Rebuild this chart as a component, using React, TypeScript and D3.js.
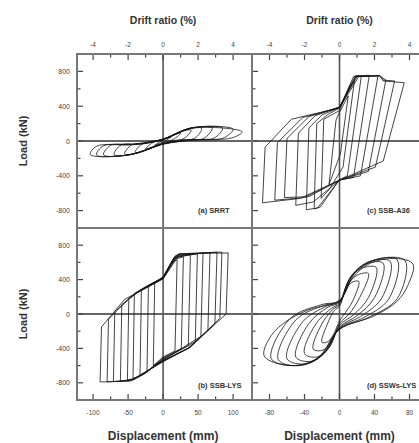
import * as d3 from "d3";
import React, { useEffect, useRef } from "react";

type Pt = [number, number];

// axis ticks
const driftTicks = [-4, -2, 0, 2, 4];
const driftMinor = [-3, -1, 1, 3];
const loadTicks = [800, 400, 0, -400, -800];
const loadMinor = [600, 200, -200, -600];
const dispTicksLeft = [-100, -50, 0, 50, 100];
const dispMinorLeft = [-75, -25, 25, 75];
const dispTicksRight = [-80, -40, 0, 40, 80];
const dispMinorRight = [-60, -20, 20, 60];

const panelLabels = ["(a) SRRT", "(b) SSB-LYS", "(c) SSB-A36", "(d) SSWs-LYS"];

// hysteresis cycles, [displacement (mm), load (kN)] key points
const loopsA: Pt[][] = [
  [[12, 50], [5, 10], [0, -10], [-12, -50], [-5, -10], [0, 10]],
  [[25, 90], [15, 20], [0, -20], [-25, -90], [-15, -20], [0, 20]],
  [[40, 125], [30, 30], [0, -30], [-28, -115], [-40, -130], [-30, -35], [0, 20], [28, 115]],
  [[55, 145], [45, 30], [20, 10], [0, -30], [-38, -140], [-55, -150], [-45, -45], [-20, -20], [0, 20], [35, 140]],
  [[70, 150], [58, 30], [30, 12], [0, -32], [-42, -150], [-70, -158], [-60, -45], [-30, -35], [0, 20], [38, 148]],
  [[85, 148], [72, 30], [40, 12], [0, -34], [-45, -155], [-85, -160], [-75, -50], [-40, -40], [0, 20], [40, 150]],
  [[100, 135], [85, 30], [45, 14], [0, -35], [-48, -158], [-95, -160], [-85, -55], [-45, -40], [0, 20], [42, 150]],
  [[113, 105], [98, 35], [50, 15], [0, -36], [-50, -160], [-104, -155], [-95, -60], [-45, -42], [0, 20], [45, 150]],
];

const loopsB: Pt[][] = [
  [[20, 630], [17, -430], [0, -500], [-14, -600], [-12, 360], [0, 430], [12, 600]],
  [[29, 665], [26, -400], [0, -510], [-23, -670], [-21, 320], [0, 430], [14, 630]],
  [[39, 690], [36, -370], [0, -520], [-25, -690], [-33, -720], [-31, 280], [-15, 360], [0, 425], [15, 650]],
  [[49, 700], [46, -320], [0, -530], [-30, -710], [-43, -750], [-41, 240], [-20, 340], [0, 420], [16, 660]],
  [[57, 710], [54, -260], [0, -535], [-35, -735], [-51, -770], [-49, 180], [-26, 310], [0, 420], [17, 670]],
  [[67, 715], [64, -190], [35, -400], [0, -540], [-40, -755], [-61, -780], [-59, 110], [-32, 280], [0, 415], [18, 680]],
  [[77, 720], [74, -110], [37, -395], [0, -545], [-42, -765], [-71, -785], [-69, 30], [-38, 250], [0, 415], [20, 690]],
  [[84, 720], [81, -50], [38, -390], [0, -550], [-45, -775], [-80, -790], [-78, -60], [-45, 210], [0, 410], [22, 700]],
  [[93, 710], [90, 0], [39, -385], [0, -555], [-48, -780], [-90, -790], [-88, -150], [-55, 170], [0, 410], [24, 700]],
];

const loopsC: Pt[][] = [
  [[10, 520], [1, -150], [-12, -500], [-4, 240], [0, 330]],
  [[17, 690], [4, -300], [-12, -560], [-21, -660], [-18, 250], [0, 350], [12, 640]],
  [[25, 750], [9, -400], [0, -445], [-22, -760], [-29, -780], [-26, 200], [-14, 300], [0, 380], [16, 740]],
  [[34, 755], [16, -420], [0, -445], [-25, -770], [-38, -790], [-35, 150], [-20, 300], [0, 385], [18, 750]],
  [[44, 750], [24, -400], [0, -450], [-30, -700], [-50, -740], [-47, 90], [-28, 290], [0, 390], [19, 745]],
  [[53, 700], [33, -350], [0, -450], [-35, -640], [-63, -650], [-60, 30], [-35, 280], [0, 390], [19, 740], [46, 750]],
  [[63, 690], [41, -300], [0, -450], [-40, -650], [-74, -680], [-71, -20], [-42, 270], [0, 385], [20, 740], [46, 750], [50, 700]],
  [[74, 670], [50, -230], [0, -450], [-45, -660], [-88, -710], [-85, -70], [-55, 250], [0, 380], [22, 740], [46, 750], [50, 690]],
];

const loopsD: Pt[][] = [
  [[22, 380], [15, 150], [7, 20], [0, -80], [-6, -220], [-13, -320], [-20, -330], [-14, -120], [-6, 40], [0, 90], [6, 250], [13, 360]],
  [[33, 470], [23, 190], [11, 0], [0, -110], [-9, -320], [-19, -420], [-30, -410], [-21, -130], [-8, 50], [0, 110], [8, 320], [20, 450]],
  [[42, 540], [33, 190], [16, -10], [0, -130], [-11, -380], [-26, -500], [-40, -460], [-28, -130], [-10, 60], [0, 125], [10, 380], [25, 530]],
  [[50, 590], [40, 190], [20, -20], [0, -150], [-14, -420], [-32, -550], [-50, -500], [-35, -110], [-13, 80], [0, 135], [12, 420], [30, 580]],
  [[58, 610], [48, 180], [24, -30], [0, -160], [-17, -450], [-38, -580], [-60, -520], [-42, -90], [-15, 90], [0, 145], [14, 450], [34, 610]],
  [[66, 630], [56, 170], [28, -40], [0, -170], [-20, -480], [-45, -600], [-70, -530], [-50, -70], [-18, 100], [0, 150], [16, 470], [40, 630]],
  [[75, 620], [66, 180], [32, -45], [0, -175], [-23, -500], [-50, -600], [-78, -520], [-56, -50], [-20, 110], [0, 155], [18, 480], [45, 640]],
  [[84, 580], [78, 330], [66, 150], [40, -20], [0, -180], [-25, -510], [-55, -600], [-86, -490], [-78, -250], [-60, -80], [-35, 50], [0, 160], [15, 420], [35, 590], [65, 645]],
];

const FONT = "'Liberation Sans', Arial, sans-serif";

function App() {
  const svgRef = useRef<SVGSVGElement>(null);

  useEffect(() => {
    const svg = d3.select(svgRef.current);
    svg.selectAll("*").remove();

    const cols = [
      {
        x: d3.scaleLinear().domain([-123, 127]).range([77, 252]),
        drift: d3.scaleLinear().domain([-4.92, 5.08]).range([77, 252]),
        major: dispTicksLeft,
        minor: dispMinorLeft,
      },
      {
        x: d3.scaleLinear().domain([-100, 100]).range([252, 427]),
        drift: d3.scaleLinear().domain([-5, 5]).range([252, 427]),
        major: dispTicksRight,
        minor: dispMinorRight,
      },
    ];
    const rows = [
      d3.scaleLinear().domain([-1000, 1000]).range([228, 54]),
      d3.scaleLinear().domain([-1000, 1000]).range([400, 228]),
    ];

    const panels = [
      { loops: loopsA, col: 0, row: 0, label: panelLabels[0], curve: d3.curveCatmullRomClosed.alpha(0.5) },
      { loops: loopsC, col: 1, row: 0, label: panelLabels[2], curve: d3.curveLinearClosed },
      { loops: loopsB, col: 0, row: 1, label: panelLabels[1], curve: d3.curveLinearClosed },
      { loops: loopsD, col: 1, row: 1, label: panelLabels[3], curve: d3.curveCatmullRomClosed.alpha(0.5) },
    ];

    const defs = svg.append("defs");

    panels.forEach((p, i) => {
      const x = cols[p.col].x;
      const y = rows[p.row];
      const [x0, x1] = x.range();
      const [y1, y0] = y.range();

      defs
        .append("clipPath")
        .attr("id", `clip-${i}`)
        .append("rect")
        .attr("x", x0)
        .attr("y", y0)
        .attr("width", x1 - x0)
        .attr("height", y1 - y0);

      const g = svg.append("g").attr("clip-path", `url(#clip-${i})`);

      // zero lines
      g.append("line")
        .attr("x1", x0).attr("x2", x1)
        .attr("y1", y(0)).attr("y2", y(0))
        .attr("stroke", "#666").attr("stroke-width", 1.8);
      g.append("line")
        .attr("x1", x(0)).attr("x2", x(0))
        .attr("y1", y0).attr("y2", y1)
        .attr("stroke", "#555").attr("stroke-width", 1.6);

      const lineGen = d3
        .line<Pt>()
        .x((d) => x(d[0]))
        .y((d) => y(d[1]))
        .curve(p.curve);

      g.selectAll(".loop")
        .data(p.loops)
        .join("path")
        .attr("class", "loop")
        .attr("fill", "none")
        .attr("stroke", "#151515")
        .attr("stroke-width", 0.8)
        .attr("d", lineGen);

      // y ticks on the left edge of each panel
      g.selectAll(".ymaj")
        .data(loadTicks)
        .join("line")
        .attr("class", "ymaj")
        .attr("x1", x0).attr("x2", x0 + 6)
        .attr("y1", (d) => y(d)).attr("y2", (d) => y(d))
        .attr("stroke", "#444").attr("stroke-width", 1.2);
      g.selectAll(".ymin")
        .data(loadMinor)
        .join("line")
        .attr("class", "ymin")
        .attr("x1", x0).attr("x2", x0 + 3.5)
        .attr("y1", (d) => y(d)).attr("y2", (d) => y(d))
        .attr("stroke", "#444").attr("stroke-width", 1.2);

      svg.append("text")
        .attr("x", p.col === 0 ? 198 : 367)
        .attr("y", p.row === 0 ? 213 : 388)
        .attr("font-family", FONT)
        .attr("font-size", 7.5)
        .attr("font-weight", "bold")
        .attr("fill", "#333")
        .text(p.label);

      if (p.col === 0) {
        svg.selectAll(`.ylab-${i}`)
          .data(loadTicks)
          .join("text")
          .attr("class", `ylab-${i}`)
          .attr("x", 70)
          .attr("y", (d) => y(d) + 2.5)
          .attr("text-anchor", "end")
          .attr("font-family", FONT)
          .attr("font-size", 7)
          .attr("fill", "#444")
          .text((d) => String(d));

        svg.append("text")
          .attr("transform", `translate(27, ${y(0)}) rotate(-90)`)
          .attr("text-anchor", "middle")
          .attr("font-family", FONT)
          .attr("font-size", 11)
          .attr("font-weight", "bold")
          .attr("fill", "#333")
          .text("Load (kN)");
      }
    });

    // top drift ratio axes and bottom displacement axes
    cols.forEach((c) => {
      const top = 54;
      const bottom = 400;
      const [x0, x1] = c.x.range();

      svg.selectAll(null)
        .data(driftTicks)
        .join("line")
        .attr("x1", (d) => c.drift(d)).attr("x2", (d) => c.drift(d))
        .attr("y1", top).attr("y2", top + 6)
        .attr("stroke", "#444").attr("stroke-width", 1.2);
      svg.selectAll(null)
        .data(driftMinor)
        .join("line")
        .attr("x1", (d) => c.drift(d)).attr("x2", (d) => c.drift(d))
        .attr("y1", top).attr("y2", top + 3.5)
        .attr("stroke", "#444").attr("stroke-width", 1.2);
      svg.selectAll(null)
        .data(driftTicks)
        .join("text")
        .attr("x", (d) => c.drift(d))
        .attr("y", 47)
        .attr("text-anchor", "middle")
        .attr("font-family", FONT)
        .attr("font-size", 6.5)
        .attr("fill", "#444")
        .text((d) => String(d));

      svg.selectAll(null)
        .data(c.major)
        .join("line")
        .attr("x1", (d) => c.x(d)).attr("x2", (d) => c.x(d))
        .attr("y1", bottom).attr("y2", bottom - 6)
        .attr("stroke", "#444").attr("stroke-width", 1.2);
      svg.selectAll(null)
        .data(c.minor)
        .join("line")
        .attr("x1", (d) => c.x(d)).attr("x2", (d) => c.x(d))
        .attr("y1", bottom).attr("y2", bottom - 3.5)
        .attr("stroke", "#444").attr("stroke-width", 1.2);
      svg.selectAll(null)
        .data(c.major)
        .join("text")
        .attr("x", (d) => c.x(d))
        .attr("y", 415)
        .attr("text-anchor", "middle")
        .attr("font-family", FONT)
        .attr("font-size", 6.5)
        .attr("fill", "#444")
        .text((d) => String(d));

      const mid = c.x(0);
      svg.append("text")
        .attr("x", mid)
        .attr("y", 24)
        .attr("text-anchor", "middle")
        .attr("font-family", FONT)
        .attr("font-size", 10.5)
        .attr("font-weight", "bold")
        .attr("fill", "#333")
        .text("Drift ratio (%)");
      svg.append("text")
        .attr("x", mid)
        .attr("y", 440)
        .attr("text-anchor", "middle")
        .attr("font-family", FONT)
        .attr("font-size", 12)
        .attr("font-weight", "bold")
        .attr("fill", "#333")
        .text("Displacement (mm)");

      // panel frames
      svg.append("rect")
        .attr("x", x0).attr("y", top)
        .attr("width", x1 - x0).attr("height", bottom - top)
        .attr("fill", "none")
        .attr("stroke", "#777")
        .attr("stroke-width", 2);
    });

    svg.append("line")
      .attr("x1", 77).attr("x2", 427)
      .attr("y1", 228).attr("y2", 228)
      .attr("stroke", "#777").attr("stroke-width", 2);
  }, []);

  return (
    <svg
      ref={svgRef}
      width={419}
      height={443}
      style={{ position: "absolute", left: 0, top: 0, background: "#fff" }}
    />
  );
}

export default App;
